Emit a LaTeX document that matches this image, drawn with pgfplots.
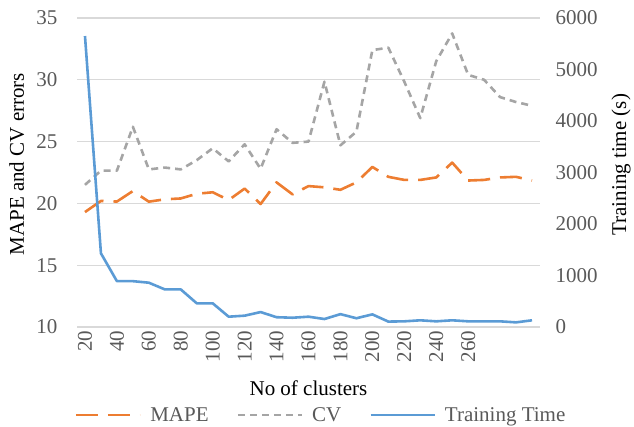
\documentclass[border=0pt]{standalone}
\usepackage{fontspec}
\setmainfont{Liberation Serif}
\usepackage{pgfplots}
\usepackage{pgfplotstable}
\pgfplotsset{compat=1.18}

\definecolor{mapec}{HTML}{ED7D31}
\definecolor{cvc}{HTML}{A5A5A5}
\definecolor{timec}{HTML}{5B9BD5}
\definecolor{txt}{HTML}{595959}
\definecolor{grd}{HTML}{D9D9D9}

% idx 0..28 = 20,30,...,300 clusters
\pgfplotstableread{
idx mape  cv    time
0   19.3  21.5  5650
1   20.2  22.65 1430
2   20.15 22.65 890
3   21.0  26.2  890
4   20.14 22.75 860
5   20.33 22.9  730
6   20.4  22.75 730
7   20.78 23.5  460
8   20.9  24.46 460
9   20.27 23.4  200
10  21.2  24.78 220
11  19.95 22.8  290
12  21.7  26.0  190
13  20.73 24.9  180
14  21.4  25.0  200
15  21.3  29.85 155
16  21.1  24.7  250
17  21.7  25.8  170
18  22.95 32.4  245
19  22.15 32.6  105
20  21.9  29.85 110
21  21.9  26.9  130
22  22.1  31.5  110
23  23.3  33.75 130
24  21.85 30.4  110
25  21.9  30.0  110
26  22.1  28.6  110
27  22.15 28.2  90
28  21.85 27.9  130
}\data

\newcommand{\chartfont}{\fontsize{21bp}{25bp}\selectfont\rmfamily}

\pgfplotsset{
  base/.style={
    width=463bp, height=309bp, scale only axis,
    xmin=-0.5, xmax=28.5,
    axis line style={draw=none},
    major tick length=0pt,
    tick label style={text=txt, font=\chartfont},
    label style={text=txt, font=\chartfont},
    /pgf/number format/assume math mode=true,
    /pgf/number format/1000 sep={},
    scaled y ticks=false,
  },
}

\begin{document}
\begin{tikzpicture}[font=\chartfont]
\useasboundingbox (-77bp,-100bp) rectangle (557bp,327bp);

\begin{axis}[base,
    ymin=10, ymax=35, ytick={10,15,...,35},
    ymajorgrids, grid style={grd, line width=1.2bp},
    xtick={0,2,...,24},
    xticklabels={20,40,60,80,100,120,140,160,180,200,220,240,260},
    xticklabel style={rotate=90, anchor=east},
    yticklabel style={xshift=-16bp},
    xlabel={No of clusters},
    ylabel={MAPE and CV errors},
    every axis x label/.style={at={(axis description cs:0.5,-0.197)}, anchor=center},
    every axis y label/.style={at={(axis description cs:-0.13,0.527)}, anchor=center, rotate=90},
    legend columns=3,
    legend style={at={(axis description cs:0.527,-0.285)}, anchor=center,
      draw=none, fill=none, text=txt, font=\chartfont,
      /tikz/every odd column/.append style={column sep=7bp},
      /tikz/every even column/.append style={column sep=26bp}},
    legend image code/.code={\draw[#1] (0bp,0bp) -- (64bp,0bp);},
  ]
  \addplot[mapec, line width=2.6bp, dash pattern=on 22bp off 10bp, line join=round] table[x=idx, y=mape] {\data};
  \addlegendentry{MAPE}
  \addplot[cvc, line width=2.6bp, dash pattern=on 7bp off 5bp, line join=round] table[x=idx, y=cv] {\data};
  \addlegendentry{CV}
  \addlegendimage{timec, line width=2.6bp}
  \addlegendentry{Training Time}
\end{axis}

\begin{axis}[base,
    ymin=0, ymax=6000, ytick={0,1000,...,6000},
    axis y line*=right, hide x axis,
    yticklabel style={xshift=12bp},
    ylabel={Training time (s)},
    every axis y label/.style={at={(axis description cs:1.175,0.525)}, anchor=center, rotate=90},
  ]
  \addplot[timec, line width=2.6bp, line join=round] table[x=idx, y=time] {\data};
\end{axis}
\end{tikzpicture}
\end{document}
